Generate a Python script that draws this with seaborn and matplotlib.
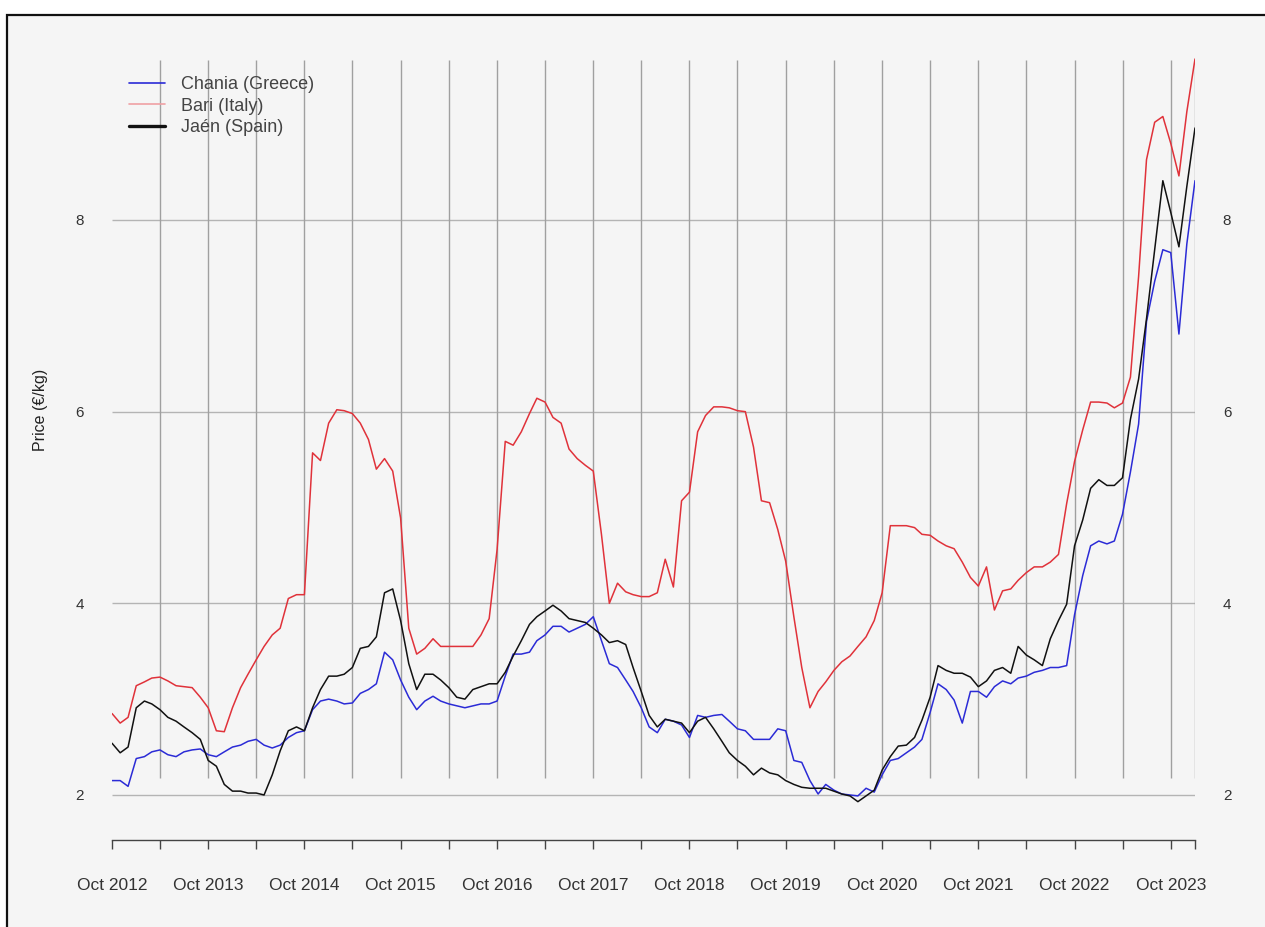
import pandas as pd
import numpy as np
import matplotlib
matplotlib.use("Agg")
import matplotlib.pyplot as plt
from matplotlib.lines import Line2D
from matplotlib.patches import Rectangle
import seaborn as sns

# monthly prices, Oct 2012 .. Jan 2024
dates = pd.date_range("2012-10-01", "2024-01-01", freq="MS")

chania = [2.15, 2.15, 2.09, 2.38, 2.40, 2.45, 2.47, 2.42, 2.40, 2.45,
          2.47, 2.48, 2.42, 2.40, 2.45, 2.50, 2.52, 2.56, 2.58, 2.52,
          2.49, 2.52, 2.60, 2.65, 2.67, 2.89, 2.98, 3.00, 2.98, 2.95,
          2.96, 3.06, 3.10, 3.16, 3.49,
          3.41, 3.20, 3.02, 2.89, 2.98, 3.03, 2.98, 2.95, 2.93, 2.91,
          2.93, 2.95, 2.95, 2.98, 3.24, 3.47, 3.47, 3.49, 3.61, 3.67,
          3.76, 3.76, 3.70, 3.74, 3.78, 3.86, 3.61, 3.37, 3.33, 3.20,
          3.08, 2.91, 2.71, 2.65,
          2.79, 2.77, 2.73, 2.60, 2.83, 2.81, 2.83, 2.84, 2.77, 2.69,
          2.67, 2.58, 2.58, 2.58, 2.69, 2.67, 2.36, 2.34, 2.15, 2.01,
          2.11, 2.05, 2.01, 2.00, 1.99, 2.07, 2.03, 2.21, 2.36, 2.38,
          2.44, 2.50, 2.58,
          2.86, 3.16, 3.10, 2.99, 2.75, 3.08, 3.08, 3.02, 3.13, 3.19,
          3.16, 3.22, 3.24, 3.28, 3.30, 3.33, 3.33, 3.35, 3.88, 4.29,
          4.60, 4.65, 4.62, 4.65, 4.93, 5.37, 5.87, 6.94, 7.36, 7.69,
          7.66, 6.81, 7.75, 8.41]

bari = [2.85, 2.75, 2.81, 3.14, 3.18, 3.22, 3.23, 3.19, 3.14, 3.13,
        3.12, 3.02, 2.91, 2.67, 2.66, 2.91, 3.12, 3.26, 3.41, 3.55,
        3.67, 3.74, 4.05, 4.09, 4.09, 5.57, 5.49, 5.88, 6.02, 6.01,
        5.98, 5.88, 5.71, 5.40, 5.51,
        5.38, 4.89, 3.74, 3.47, 3.53, 3.63, 3.55, 3.55, 3.55, 3.55,
        3.55, 3.67, 3.84, 4.56, 5.69, 5.65, 5.79, 5.98, 6.14, 6.10,
        5.94, 5.88, 5.61, 5.51, 5.44, 5.38, 4.72, 4.00, 4.21, 4.12,
        4.09, 4.07, 4.07, 4.11,
        4.46, 4.17, 5.07, 5.16, 5.79, 5.96, 6.05, 6.05, 6.04, 6.01,
        6.00, 5.63, 5.07, 5.05, 4.77, 4.44, 3.86, 3.33, 2.91, 3.08,
        3.18, 3.30, 3.39, 3.45, 3.55, 3.65, 3.82, 4.11, 4.81, 4.81,
        4.81, 4.79, 4.72,
        4.71, 4.65, 4.60, 4.57, 4.43, 4.27, 4.18, 4.38, 3.93, 4.13,
        4.15, 4.24, 4.32, 4.38, 4.38, 4.43, 4.51, 5.04, 5.48, 5.81,
        6.10, 6.10, 6.09, 6.04, 6.09, 6.36, 7.41, 8.63, 9.02, 9.08,
        8.80, 8.46, 9.13, 9.68]

jaen = [2.54, 2.44, 2.50, 2.91, 2.98, 2.95, 2.89, 2.81, 2.77, 2.71,
        2.65, 2.58, 2.36, 2.30, 2.11, 2.04, 2.04, 2.02, 2.02, 2.00,
        2.21, 2.46, 2.67, 2.71, 2.67, 2.91, 3.10, 3.24, 3.24, 3.26,
        3.33, 3.53, 3.55, 3.65, 4.11,
        4.15, 3.82, 3.37, 3.10, 3.26, 3.26, 3.20, 3.12, 3.02, 3.00,
        3.10, 3.13, 3.16, 3.16, 3.28, 3.45, 3.61, 3.78, 3.86, 3.92,
        3.98, 3.92, 3.84, 3.82, 3.80, 3.74, 3.67, 3.59, 3.61, 3.57,
        3.33, 3.08, 2.83, 2.71,
        2.79, 2.77, 2.75, 2.65, 2.77, 2.81, 2.69, 2.56, 2.44, 2.36,
        2.30, 2.21, 2.28, 2.23, 2.21, 2.15, 2.11, 2.08, 2.07, 2.07,
        2.07, 2.04, 2.01, 1.99, 1.93, 1.99, 2.05, 2.26, 2.40, 2.51,
        2.52, 2.60, 2.78,
        3.02, 3.35, 3.30, 3.27, 3.27, 3.23, 3.13, 3.19, 3.30, 3.33,
        3.27, 3.55, 3.46, 3.41, 3.35, 3.63, 3.82, 3.99, 4.60, 4.87,
        5.20, 5.29, 5.23, 5.23, 5.31, 5.92, 6.34, 6.97, 7.69, 8.41,
        8.08, 7.72, 8.35, 8.96]

labels = ["Chania (Greece)", "Bari (Italy)", "Jaén (Spain)"]
colors = ["#2b2bd6", "#e0323a", "#111111"]

df = pd.DataFrame({"date": np.tile(dates, 3),
                   "price": chania + bari + jaen,
                   "city": np.repeat(labels, len(dates))})

sns.set_style("white")
plt.rcParams["font.family"] = ["Liberation Sans", "DejaVu Sans"]

W, H = 1265, 927
fig = plt.figure(figsize=(W / 100, H / 100), dpi=100)
fig.patch.set_facecolor("white")
fig.patches.append(Rectangle((7 / W, -0.05), 1.05, 1.05 - 15 / H, transform=fig.transFigure,
                             facecolor="#f5f5f5", edgecolor="#111111", lw=1.6, zorder=-10))

ax = fig.add_axes([112 / W, (H - 840) / H, (1195 - 112) / W, (840 - 50) / H])
ax.set_zorder(1)
ax.patch.set_visible(False)

ticks = list(pd.date_range("2012-10-01", "2023-10-01", freq="6MS")) + [dates[-1]]
ax.hlines([2, 4, 6, 8], dates[0], dates[-1], color="#b4b4b4", lw=1, zorder=1)
ax.vlines(ticks[1:], 2.18, 9.67, color="#a0a0a0", lw=1, zorder=1)

sns.lineplot(data=df, x="date", y="price", hue="city", palette=colors,
             hue_order=labels, lw=1.1, legend=False, ax=ax, zorder=3)

ax.set_xlim(dates[0], dates[-1])
ax.set_ylim(1.53, 9.774)

ax.set_xticks(ticks)
ax.set_xticklabels([f"Oct {t.year}" if t.month == 10 else "" for t in ticks])
ax.tick_params(axis="x", bottom=True, direction="out", length=6.5, width=1,
               color="#444444", pad=21, labelsize=12.5, labelcolor="#333333")
ax.set_yticks([2, 4, 6, 8])
ax.set_yticklabels(["2", "4", "6", "8"])
ax.tick_params(axis="y", left=False, right=False, length=0, pad=20, labelsize=11,
               labelcolor="#333333", labelright=True)

for s in ["top", "left", "right"]:
    ax.spines[s].set_visible(False)
ax.spines["bottom"].set_color("#444444")
ax.spines["bottom"].set_linewidth(1)
ax.set_xlabel("")
ax.set_ylabel("")

fig.text(40 / W, 1 - 410 / H, "Price (€/kg)", rotation=90, ha="center", va="center",
         fontsize=11.5, color="#222222")

handles = [Line2D([], [], color=colors[0], lw=1.2),
           Line2D([], [], color="#f0a0a4", lw=1.2),
           Line2D([], [], color=colors[2], lw=2.4)]
ax.legend(handles, labels, loc="upper left", bbox_to_anchor=(120 / W, 1 - 67 / H),
          bbox_transform=fig.transFigure, frameon=False, fontsize=13,
          handlelength=2.0, handletextpad=0.9, labelspacing=0.25, borderpad=0,
          labelcolor="#444444")

fig.savefig("out.png", dpi=100, facecolor=fig.get_facecolor())
